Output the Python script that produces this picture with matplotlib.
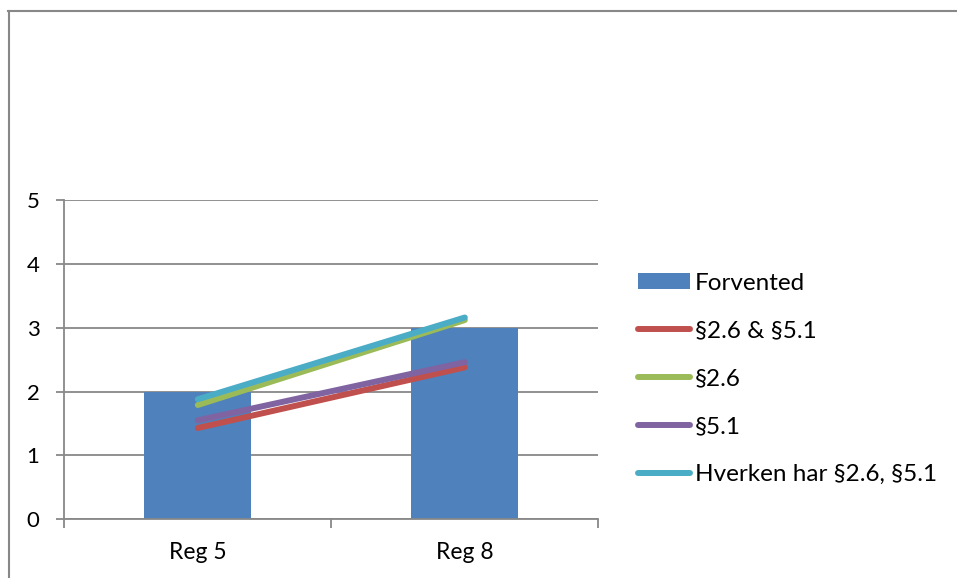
import matplotlib
matplotlib.use("Agg")
import matplotlib.pyplot as plt
from matplotlib.patches import Patch
from matplotlib.lines import Line2D
import numpy as np

plt.rcParams['font.family'] = ['Lato', 'DejaVu Sans']

categories = ["Reg 5", "Reg 8"]
forventet = [2, 3]
series_names = ["§2.6 & §5.1", "§2.6", "§5.1", "Hverken har §2.6, §5.1"]
series_values = [
    [1.43, 2.38],
    [1.79, 3.12],
    [1.55, 2.46],
    [1.88, 3.16],
]
bar_label = "Forvented"
yticks = [0, 1, 2, 3, 4, 5]

bar_color = "#4F81BD"
line_colors = ["#C0504D", "#9BBB59", "#8064A2", "#4BACC6"]
grid_color = "#888888"

W, H = 957, 578
fig = plt.figure(figsize=(W / 100, H / 100), dpi=100)

# outer chart frame (left and top edges)
fig.add_artist(Line2D([8.5 / W, 8.5 / W], [0, 1 - 10.5 / H], transform=fig.transFigure,
                      color=grid_color, lw=1.5))
fig.add_artist(Line2D([8 / W, 1], [1 - 10.5 / H, 1 - 10.5 / H], transform=fig.transFigure,
                      color=grid_color, lw=1.5))

left, right = 64.3 / W, 598.3 / W
bottom, top = (H - 519.3) / H, (H - 200) / H
ax = fig.add_axes([left, bottom, right - left, top - bottom])

x = np.arange(len(categories))
ax.bar(x, forventet, width=0.4, color=bar_color, zorder=2)
for vals, col in zip(series_values, line_colors):
    ax.plot(x, vals, color=col, lw=4.3, solid_capstyle='round', zorder=3)

ax.set_xlim(-0.5, 1.5)
ax.set_ylim(0, 5)
ax.set_yticks(yticks)
ax.yaxis.grid(True, color=grid_color, lw=1.3, zorder=1)
ax.set_axisbelow(True)

for s in ["top", "right"]:
    ax.spines[s].set_visible(False)
for s in ["left", "bottom"]:
    ax.spines[s].set_color(grid_color)
    ax.spines[s].set_linewidth(1.3)

ax.tick_params(axis='y', length=5.8, width=1.3, color=grid_color, pad=12, labelsize=16)
ax.set_xticks(x)
ax.set_xticklabels(categories)
ax.tick_params(axis='x', which='major', length=0, pad=16.5, labelsize=16.5)
ax.set_xticks([-0.5, 0.5, 1.5], minor=True)
ax.tick_params(axis='x', which='minor', length=6.5, width=1.3, color=grid_color)

handles = [Patch(facecolor=bar_color, edgecolor='none')] + [
    Line2D([0], [0], color=c, lw=4.3, solid_capstyle='round') for c in line_colors]
labels = [bar_label] + series_names
fig.legend(handles, labels, loc='upper left', bbox_to_anchor=(638 / W, 1 - 273 / H),
           frameon=False, fontsize=17.5, handlelength=2.15, handleheight=0.63,
           handletextpad=0.2, labelspacing=1.1, borderpad=0, borderaxespad=0)

fig.savefig("out.png", dpi=100)
